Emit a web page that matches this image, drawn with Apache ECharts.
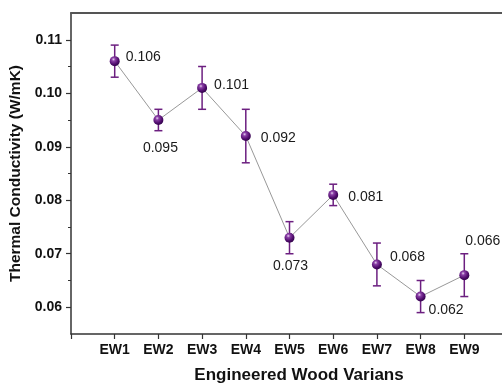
<!DOCTYPE html>
<html>
<head>
<meta charset="utf-8">
<script src="https://cdn.jsdelivr.net/npm/echarts@6/dist/echarts.min.js"></script>
<style>
html,body{margin:0;padding:0;background:#fff;}
#c{width:502px;height:383px;}
</style>
</head>
<body>
<div id="c"></div>
<script>
// ---- data ----
const categories = ['EW1','EW2','EW3','EW4','EW5','EW6','EW7','EW8','EW9'];
const values = [0.106, 0.095, 0.101, 0.092, 0.073, 0.081, 0.068, 0.062, 0.066];
const errors = [0.003, 0.002, 0.004, 0.005, 0.003, 0.002, 0.004, 0.003, 0.004];
const yTickValues = [0.06, 0.07, 0.08, 0.09, 0.10, 0.11];
const yMinorTickValues = [0.065, 0.075, 0.085, 0.095, 0.105];

// ---- styles (label placement per point) ----
const labelStyle = [
  {align:'left',   dx: 11, dy: -4},
  {align:'center', dx: 2,  dy: 28},
  {align:'left',   dx: 12, dy: -3},
  {align:'left',   dx: 15, dy: 2},
  {align:'center', dx: 1,  dy: 28},
  {align:'left',   dx: 15, dy: 2},
  {align:'left',   dx: 13, dy: -7},
  {align:'left',   dx: 8,  dy: 14},
  {align:'left',   dx: 1,  dy: -34}
];

const FONT = 'Arial, "Liberation Sans", sans-serif';
const axisColor = '#333';

const pointData = values.map((v, i) => ({
  value: [i + 1, v],
  label: {
    show: true,
    position: 'inside',
    align: labelStyle[i].align,
    verticalAlign: 'middle',
    offset: [labelStyle[i].dx, labelStyle[i].dy],
    formatter: v.toFixed(3),
    color: '#1a1a1a',
    fontSize: 14,
    fontFamily: FONT
  }
}));
const errData = values.map((v, i) => [i + 1, v - errors[i], v + errors[i]]);

const chart = echarts.init(document.getElementById('c'), null, {renderer: 'canvas'});
chart.setOption({
  animation: false,
  backgroundColor: '#fff',
  grid: {left: 71, top: 13, right: -6, bottom: 49, containLabel: false, outerBoundsMode: 'none'},
  xAxis: [{
    type: 'value', min: 0, max: 10, interval: 1,
    position: 'bottom',
    name: 'Engineered Wood Varians',
    nameLocation: 'middle', nameGap: 33,
    nameTextStyle: {fontSize: 17, fontWeight: 'bold', fontFamily: FONT, color: '#111', padding: [0,0,0,19]},
    axisLine: {show: true, onZero: false, lineStyle: {color: axisColor, width: 1.5}},
    axisTick: {show: true, inside: false, length: 5, lineStyle: {color: axisColor, width: 1.2}},
    axisLabel: {
      margin: 9, fontSize: 14, fontWeight: 'bold', fontFamily: FONT, color: '#111',
      formatter: function (v) { return (v >= 1 && v <= categories.length) ? categories[v - 1] : ''; }
    },
    splitLine: {show: false}
  }, {
    type: 'value', min: 0, max: 10, position: 'top',
    axisLine: {show: true, onZero: false, lineStyle: {color: '#555', width: 2}},
    axisTick: {show: false}, axisLabel: {show: false}, splitLine: {show: false}
  }],
  yAxis: [{
    type: 'value', min: 0.055, max: 0.115,
    position: 'left',
    name: 'Thermal Conductivity (W/mK)',
    nameLocation: 'middle', nameGap: 41, nameRotate: 90,
    nameTextStyle: {fontSize: 15.5, fontWeight: 'bold', fontFamily: FONT, color: '#111'},
    axisLine: {show: true, onZero: false, lineStyle: {color: axisColor, width: 1.5}},
    axisTick: {show: true, inside: false, length: 5, customValues: yTickValues, lineStyle: {color: axisColor, width: 1.2}},
    axisLabel: {
      margin: 9, fontSize: 14, fontWeight: 'bold', fontFamily: FONT, color: '#111',
      customValues: yTickValues,
      formatter: function (v) { return v.toFixed(2); }
    },
    splitLine: {show: false}
  }, {
    type: 'value', min: 0.055, max: 0.115, position: 'left',
    axisLine: {show: false},
    axisTick: {show: true, inside: false, length: 3, customValues: yMinorTickValues, lineStyle: {color: axisColor, width: 1}},
    axisLabel: {show: false}, splitLine: {show: false}
  }],
  series: [{
    type: 'custom',
    xAxisIndex: 0, yAxisIndex: 0,
    data: errData,
    z: 2,
    renderItem: function (params, api) {
      const x = api.value(0);
      const lo = api.coord([x, api.value(1)]);
      const hi = api.coord([x, api.value(2)]);
      const w = 4;
      const st = {stroke: '#6c1f80', lineWidth: 1.5};
      return {type: 'group', children: [
        {type: 'line', shape: {x1: lo[0], y1: lo[1], x2: hi[0], y2: hi[1]}, style: st},
        {type: 'line', shape: {x1: lo[0] - w, y1: lo[1], x2: lo[0] + w, y2: lo[1]}, style: st},
        {type: 'line', shape: {x1: hi[0] - w, y1: hi[1], x2: hi[0] + w, y2: hi[1]}, style: st}
      ]};
    }
  }, {
    type: 'line',
    xAxisIndex: 0, yAxisIndex: 0,
    data: pointData,
    z: 3,
    symbol: 'circle',
    symbolSize: 10,
    lineStyle: {color: '#8c8c8c', width: 0.9},
    itemStyle: {
      color: {
        type: 'radial', x: 0.38, y: 0.32, r: 0.7,
        colorStops: [
          {offset: 0, color: '#e6d2ee'},
          {offset: 0.25, color: '#8a3ea6'},
          {offset: 0.7, color: '#4f0c6c'},
          {offset: 1, color: '#32044a'}
        ]
      },
      borderWidth: 0
    }
  }]
});
</script>
</body>
</html>
